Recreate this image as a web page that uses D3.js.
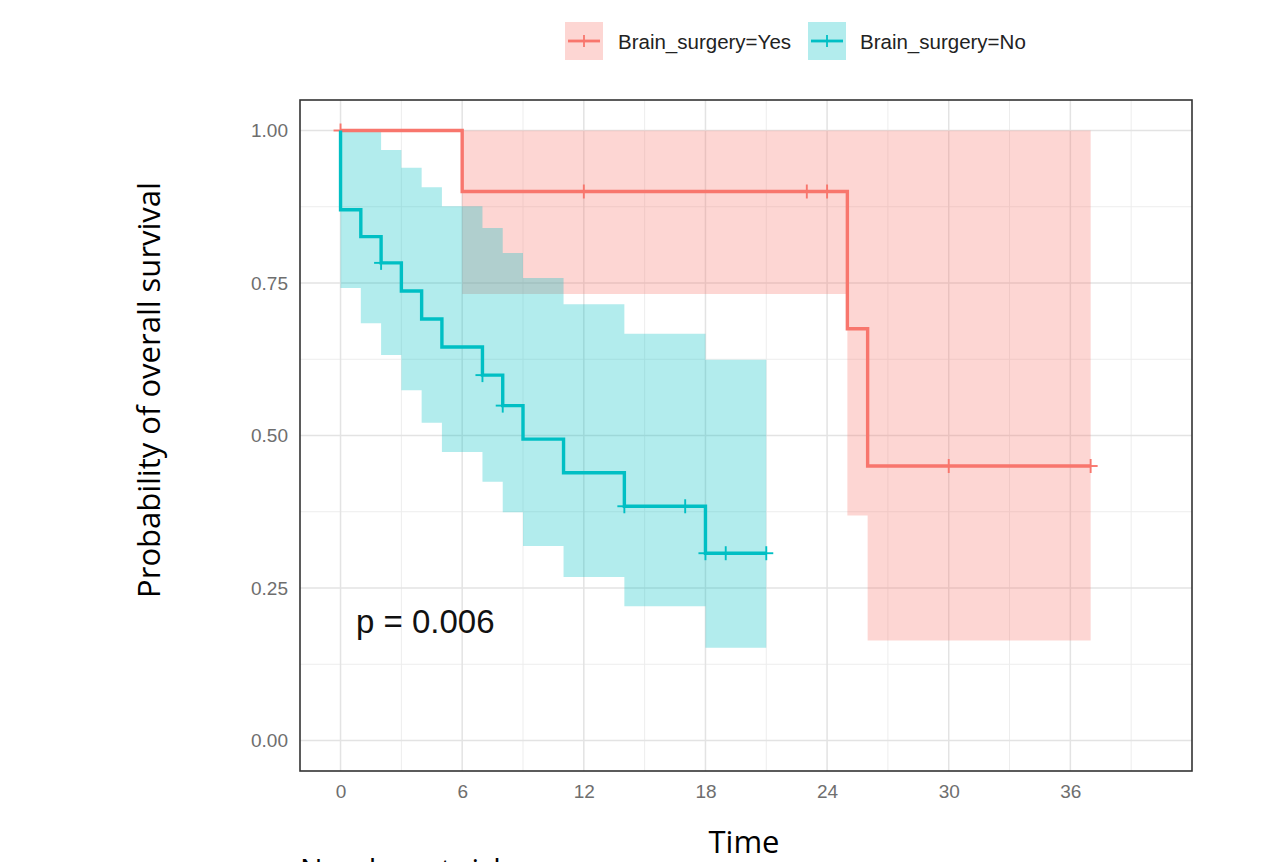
<!DOCTYPE html>
<html>
<head>
<meta charset="utf-8">
<script src="https://cdn.jsdelivr.net/npm/d3@7"></script>
<style>
  html, body { margin: 0; padding: 0; background: #fff; }
  svg { display: block; }
</style>
</head>
<body>
<svg id="chart" width="1280" height="862"></svg>
<script>
// ---------- data ----------
const groups = ["Brain_surgery=Yes", "Brain_surgery=No"];
const colors = ["#F8766D", "#00BFC4"];

// Brain_surgery=Yes : step times, survival, confidence band
const yesTimes = [0, 6, 25, 26, 37];
const yesSurv  = [1, 0.90, 0.675, 0.45, 0.45];
const yesLower = [1, 0.732, 0.369, 0.164, 0.164];
const yesUpper = [1, 1, 1, 1, 1];
const yesCensor = [0, 12, 23, 24, 30, 37];

// Brain_surgery=No
const noTimes = [0, 1, 2, 3, 4, 5, 7, 8, 9, 11, 14, 18, 21];
const noSurv  = [0.870, 0.826, 0.783, 0.737, 0.691, 0.645, 0.599, 0.549, 0.494, 0.439, 0.384, 0.307, 0.307];
const noLower = [0.742, 0.684, 0.632, 0.574, 0.521, 0.473, 0.424, 0.374, 0.319, 0.268, 0.220, 0.152, 0.152];
const noUpper = [1, 1, 0.968, 0.939, 0.907, 0.876, 0.840, 0.799, 0.758, 0.715, 0.667, 0.624, 0.624];
const noCensor = [2, 7, 8, 14, 17, 18, 19, 21];

const xTicks = [0, 6, 12, 18, 24, 30, 36];
const xMinor = [3, 9, 15, 21, 27, 33, 39];
const yTicks = [0, 0.25, 0.5, 0.75, 1];
const yMinor = [0.125, 0.375, 0.625, 0.875];
const pLabel = "p = 0.006";
const xTitle = "Time";
const yTitle = "Probability of overall survival";
const riskTitle = "Number at risk";

// ---------- layout ----------
const svg = d3.select("#chart");
const panel = { left: 300, top: 100, right: 1192, bottom: 771 };
const x = d3.scaleLinear().domain([-2, 42]).range([panel.left, panel.right]);
const y = d3.scaleLinear().domain([-0.05, 1.05]).range([panel.bottom, panel.top]);

// grid
const grid = svg.append("g");
grid.selectAll(".vmin").data(xMinor).join("line")
  .attr("x1", d => x(d)).attr("x2", d => x(d))
  .attr("y1", panel.top).attr("y2", panel.bottom)
  .attr("stroke", "#EDEDED").attr("stroke-width", 1);
grid.selectAll(".hmin").data(yMinor).join("line")
  .attr("y1", d => y(d)).attr("y2", d => y(d))
  .attr("x1", panel.left).attr("x2", panel.right)
  .attr("stroke", "#EDEDED").attr("stroke-width", 1);
grid.selectAll(".vmaj").data(xTicks).join("line")
  .attr("x1", d => x(d)).attr("x2", d => x(d))
  .attr("y1", panel.top).attr("y2", panel.bottom)
  .attr("stroke", "#E3E3E3").attr("stroke-width", 1.5);
grid.selectAll(".hmaj").data(yTicks).join("line")
  .attr("y1", d => y(d)).attr("y2", d => y(d))
  .attr("x1", panel.left).attr("x2", panel.right)
  .attr("stroke", "#E3E3E3").attr("stroke-width", 1.5);

// build series
function series(times, surv, lower, upper, start) {
  const pts = times.map((t, i) => ({ t, s: surv[i], lo: lower[i], hi: upper[i] }));
  if (start) pts.unshift({ t: 0, s: 1, lo: 1, hi: 1 });
  return pts;
}
const yesData = series(yesTimes, yesSurv, yesLower, yesUpper, false);
const noData  = series(noTimes, noSurv, noLower, noUpper, true);

function survAt(times, surv, t) {
  let v = 1;
  times.forEach((tt, i) => { if (tt <= t) v = surv[i]; });
  return v;
}

const area = d3.area().curve(d3.curveStepAfter)
  .x(d => x(d.t)).y0(d => y(d.lo)).y1(d => y(d.hi));
const line = d3.line().curve(d3.curveStepAfter)
  .x(d => x(d.t)).y(d => y(d.s));

const sets = [
  { data: yesData, times: yesTimes, surv: yesSurv, censor: yesCensor, color: colors[0] },
  { data: noData,  times: noTimes,  surv: noSurv,  censor: noCensor,  color: colors[1] }
];

// bands
sets.forEach(s => {
  svg.append("path").datum(s.data).attr("d", area)
    .attr("fill", s.color).attr("fill-opacity", 0.3).attr("stroke", "none");
});
// lines + censor marks
sets.forEach(s => {
  svg.append("path").datum(s.data).attr("d", line)
    .attr("fill", "none").attr("stroke", s.color).attr("stroke-width", 3.4);
  const g = svg.append("g");
  s.censor.forEach(t => {
    const cx = x(t), cy = y(survAt(s.times, s.surv, t));
    g.append("line").attr("x1", cx).attr("x2", cx).attr("y1", cy - 7).attr("y2", cy + 7)
      .attr("stroke", s.color).attr("stroke-width", 1.9);
    g.append("line").attr("x1", cx - 7).attr("x2", cx + 7).attr("y1", cy).attr("y2", cy)
      .attr("stroke", s.color).attr("stroke-width", 1.9);
  });
});

// panel border
svg.append("rect")
  .attr("x", panel.left).attr("y", panel.top)
  .attr("width", panel.right - panel.left).attr("height", panel.bottom - panel.top)
  .attr("fill", "none").attr("stroke", "#333").attr("stroke-width", 1.6);

// axes (labels only)
const xAxis = d3.axisBottom(x).tickValues(xTicks).tickSize(0).tickPadding(14);
const gx = svg.append("g").attr("transform", `translate(0,${panel.bottom})`).call(xAxis);
gx.select(".domain").remove();
gx.selectAll("text").attr("font-family", "Liberation Sans, Arial, sans-serif")
  .attr("font-size", 19).attr("fill", "#6E6E6E");

const yAxis = d3.axisLeft(y).tickValues(yTicks).tickFormat(d3.format(".2f")).tickSize(0).tickPadding(12);
const gy = svg.append("g").attr("transform", `translate(${panel.left},0)`).call(yAxis);
gy.select(".domain").remove();
gy.selectAll("text").attr("font-family", "Liberation Sans, Arial, sans-serif")
  .attr("font-size", 19).attr("fill", "#6E6E6E");

// p-value
svg.append("text").attr("x", 356).attr("y", 633)
  .attr("font-family", "Liberation Sans, Arial, sans-serif")
  .attr("font-size", 33).attr("fill", "#111").text(pLabel);

// titles
svg.append("text").attr("x", 744).attr("y", 853).attr("text-anchor", "middle")
  .attr("font-family", "Open Sans, Noto Sans, sans-serif").attr("font-size", 31)
  .attr("fill", "#000").text(xTitle);
svg.append("text").attr("transform", "translate(160,390) rotate(-90)")
  .attr("text-anchor", "middle")
  .attr("font-family", "Open Sans, Noto Sans, sans-serif").attr("font-size", 31)
  .attr("fill", "#000").text(yTitle);
svg.append("text").attr("x", 300).attr("y", 880)
  .attr("font-family", "Open Sans, Noto Sans, sans-serif").attr("font-size", 30)
  .attr("fill", "#000").text(riskTitle);

// legend
const legendItems = [
  { label: groups[0], color: colors[0], kx: 565, tx: 618 },
  { label: groups[1], color: colors[1], kx: 808, tx: 860 }
];
const lg = svg.append("g");
legendItems.forEach(it => {
  lg.append("rect").attr("x", it.kx).attr("y", 22).attr("width", 38).attr("height", 38)
    .attr("fill", it.color).attr("fill-opacity", 0.3);
  lg.append("line").attr("x1", it.kx + 3).attr("x2", it.kx + 35).attr("y1", 41).attr("y2", 41)
    .attr("stroke", it.color).attr("stroke-width", 2.8);
  lg.append("line").attr("x1", it.kx + 19).attr("x2", it.kx + 19).attr("y1", 35).attr("y2", 47)
    .attr("stroke", it.color).attr("stroke-width", 1.8);
  lg.append("text").attr("x", it.tx).attr("y", 48.5)
    .attr("font-family", "Liberation Sans, Arial, sans-serif").attr("font-size", 20.5)
    .attr("fill", "#222").text(it.label);
});
</script>
</body>
</html>
